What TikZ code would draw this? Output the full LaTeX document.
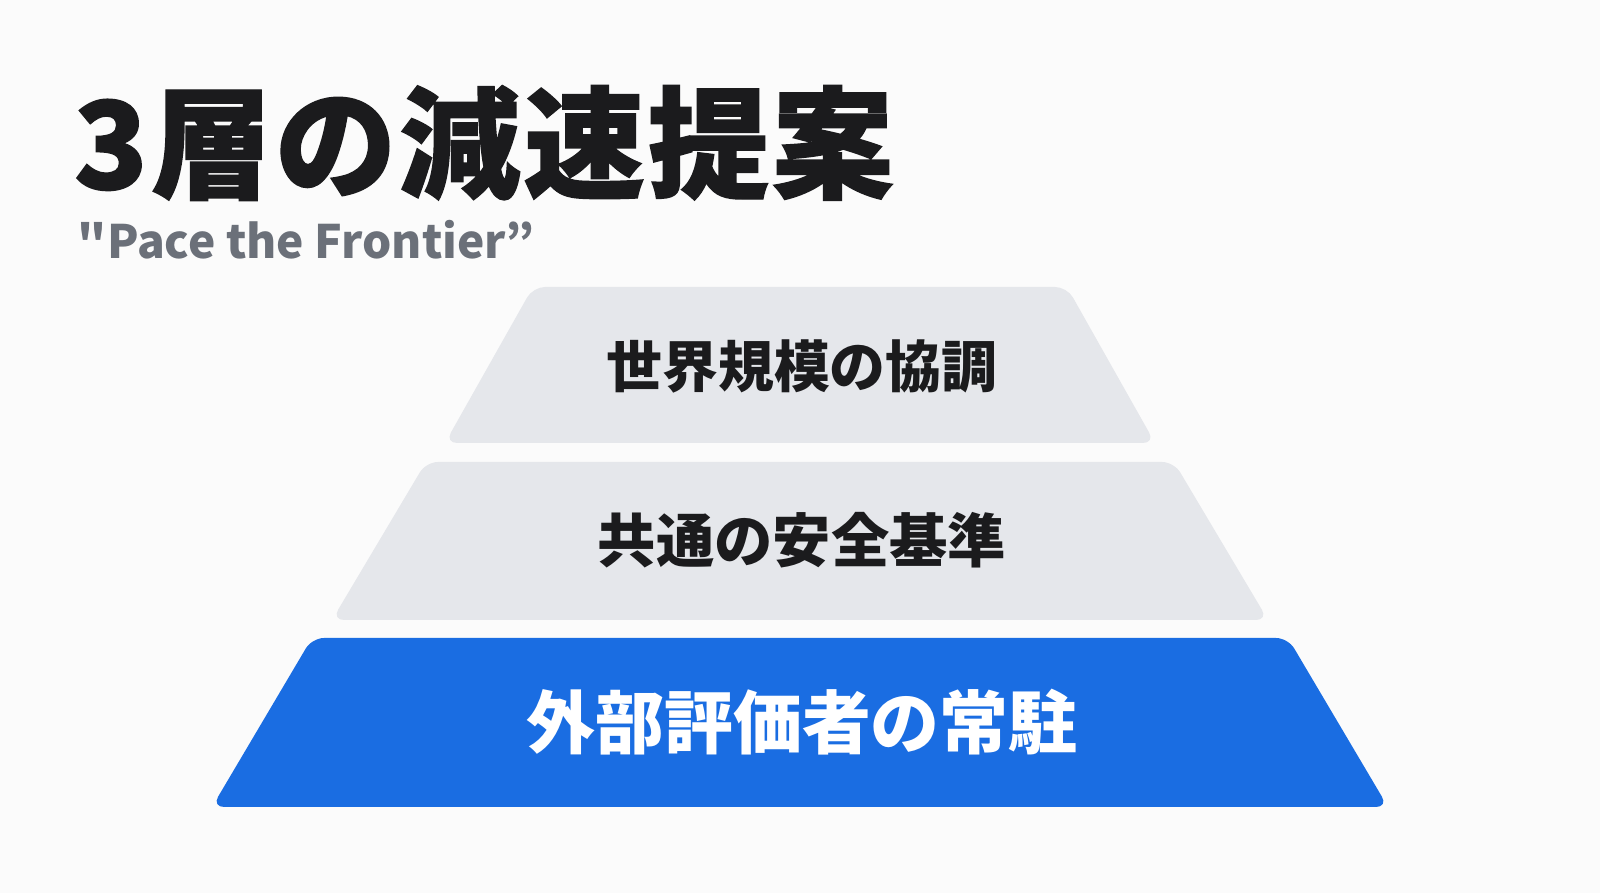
\documentclass[tikz,border=0pt]{standalone}
\usepackage{fontspec}
\newfontfamily\jpfont{Noto Sans CJK JP}
\newfontfamily\jptitle{Noto Sans CJK JP}[LetterSpace=2.5,BoldFeatures={FakeBold=1.2}]
\definecolor{pagewhite}{HTML}{FBFBFB}
\definecolor{inkdark}{HTML}{1B1B1D}
\definecolor{mottogray}{HTML}{6B7079}
\definecolor{layergray}{HTML}{E5E7EB}
\definecolor{layerblue}{HTML}{1A6DE2}

\begin{document}
\begin{tikzpicture}[
  every node/.style={align=center,inner sep=0pt,outer sep=0pt},
  title/.style={anchor=west,text=inkdark,font=\jptitle\bfseries\fontsize{34.5}{34.5}\selectfont},
  motto/.style={anchor=west,text=mottogray,font=\jpfont\bfseries\fontsize{13.1}{13.1}\selectfont},
  layer/.style={rounded corners=0.12cm},
  graylayer/.style={layer,fill=layergray},
  bluelayer/.style={layer,fill=layerblue},
  layertext/.style={text=inkdark,font=\jpfont\bfseries\fontsize{15.9}{15.9}\selectfont},
  bluetext/.style={text=white,font=\jpfont\bfseries\fontsize{19.6}{19.6}\selectfont}]

  % Page and frame
  \fill[pagewhite] (0,0) rectangle (16,8.93);
  \useasboundingbox (0,0) rectangle (16,8.93);

  % Heading
  \node[title] (heading) at (0.74,7.50) {3層の減速提案};
  \node[motto] (subhead) at (0.78,6.53) {"Pace the Frontier”};

  % The three layers, top to bottom
  \fill[graylayer] (8,4.50) -- (11.55,4.50) -- (10.67,6.06) -- (5.33,6.06) -- (4.45,4.50) -- cycle;
  \fill[graylayer] (8,2.73) -- (12.68,2.73) -- (11.74,4.31) -- (4.26,4.31) -- (3.32,2.73) -- cycle;
  \fill[bluelayer] (8,0.86) -- (13.88,0.86) -- (12.88,2.55) -- (3.12,2.55) -- (2.12,0.86) -- cycle;

  \node[layertext] (coord) at (8.02,5.27) {世界規模の協調};
  \node[layertext,font=\jpfont\bfseries\fontsize{16.6}{16.6}\selectfont] (standard) at (8.02,3.53) {共通の安全基準};
  \node[bluetext] (resident) at (8.02,1.71) {外部評価者の常駐};
\end{tikzpicture}
\end{document}
